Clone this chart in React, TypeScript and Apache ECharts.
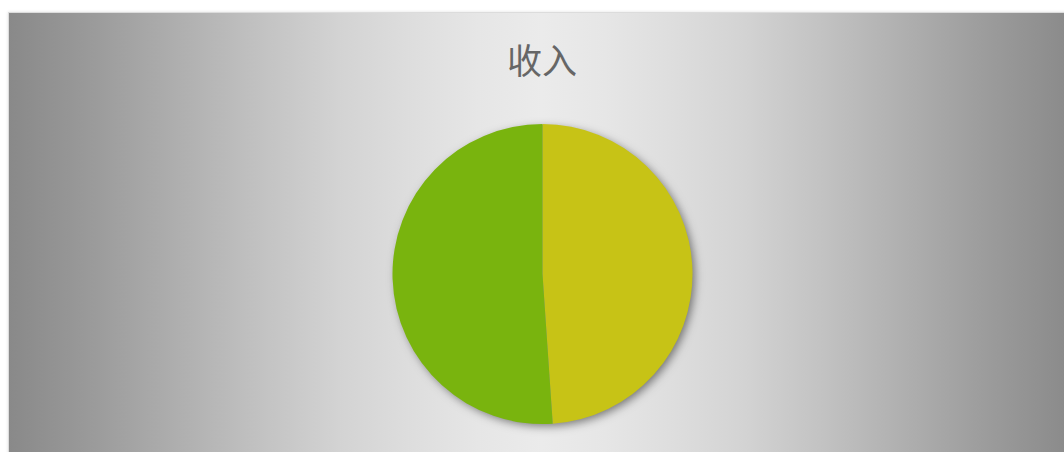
import React, { useEffect, useRef } from "react";
import * as echarts from "echarts";

const titleText = "收入";
const categories = ["工资收入", "其他收入"];
const values = [4500, 4700];
const colors = ["#c7c316", "#79b40e"];

const bgStops: [number, string][] = [
  [0, "#898989"],
  [0.08, "#9b9b9b"],
  [0.16, "#afafaf"],
  [0.24, "#c3c3c3"],
  [0.31, "#d3d3d3"],
  [0.38, "#dedede"],
  [0.44, "#e6e6e6"],
  [0.5, "#ebebeb"],
  [0.56, "#e6e6e6"],
  [0.62, "#dedede"],
  [0.69, "#d3d3d3"],
  [0.76, "#c3c3c3"],
  [0.84, "#afafaf"],
  [0.92, "#9b9b9b"],
  [1, "#898989"],
];

export default function App() {
  const ref = useRef<HTMLDivElement>(null);
  useEffect(() => {
    if (!ref.current) return;
    const chart = echarts.init(ref.current, undefined, { renderer: "svg" });
    chart.setOption({
      animation: false,
      backgroundColor: {
        type: "linear",
        x: 0,
        y: 0,
        x2: 1,
        y2: 0,
        colorStops: bgStops.map(([offset, color]) => ({ offset, color })),
      },
      title: {
        text: titleText,
        left: "center",
        top: 23,
        textStyle: {
          fontFamily: "Noto Sans CJK SC",
          fontSize: 35,
          fontWeight: "normal",
          color: "#666666",
        },
      },
      series: [
        {
          type: "pie",
          name: "shadow",
          center: [533.5, 261],
          radius: 149,
          silent: true,
          z: 1,
          label: { show: false },
          labelLine: { show: false },
          itemStyle: {
            color: "#999999",
            shadowBlur: 10,
            shadowOffsetX: 3,
            shadowOffsetY: 3,
            shadowColor: "rgba(0,0,0,0.5)",
          },
          data: [{ name: "", value: 1 }],
        },
        {
          type: "pie",
          center: [533.5, 261],
          radius: 150,
          startAngle: 90,
          clockwise: true,
          z: 2,
          label: { show: false },
          labelLine: { show: false },
          data: categories.map((name, i) => ({
            name,
            value: values[i],
            itemStyle: { color: colors[i] },
          })),
        },
      ],
    });
    return () => chart.dispose();
  }, []);
  return (
    <div
      style={{
        position: "fixed",
        left: 8,
        top: 12,
        width: 1066,
        height: 460,
        border: "1px solid #dcdcdc",
        boxShadow: "0 0 3px rgba(0,0,0,0.12)",
      }}
    >
      <div ref={ref} style={{ width: 1066, height: 460 }} />
    </div>
  );
}
